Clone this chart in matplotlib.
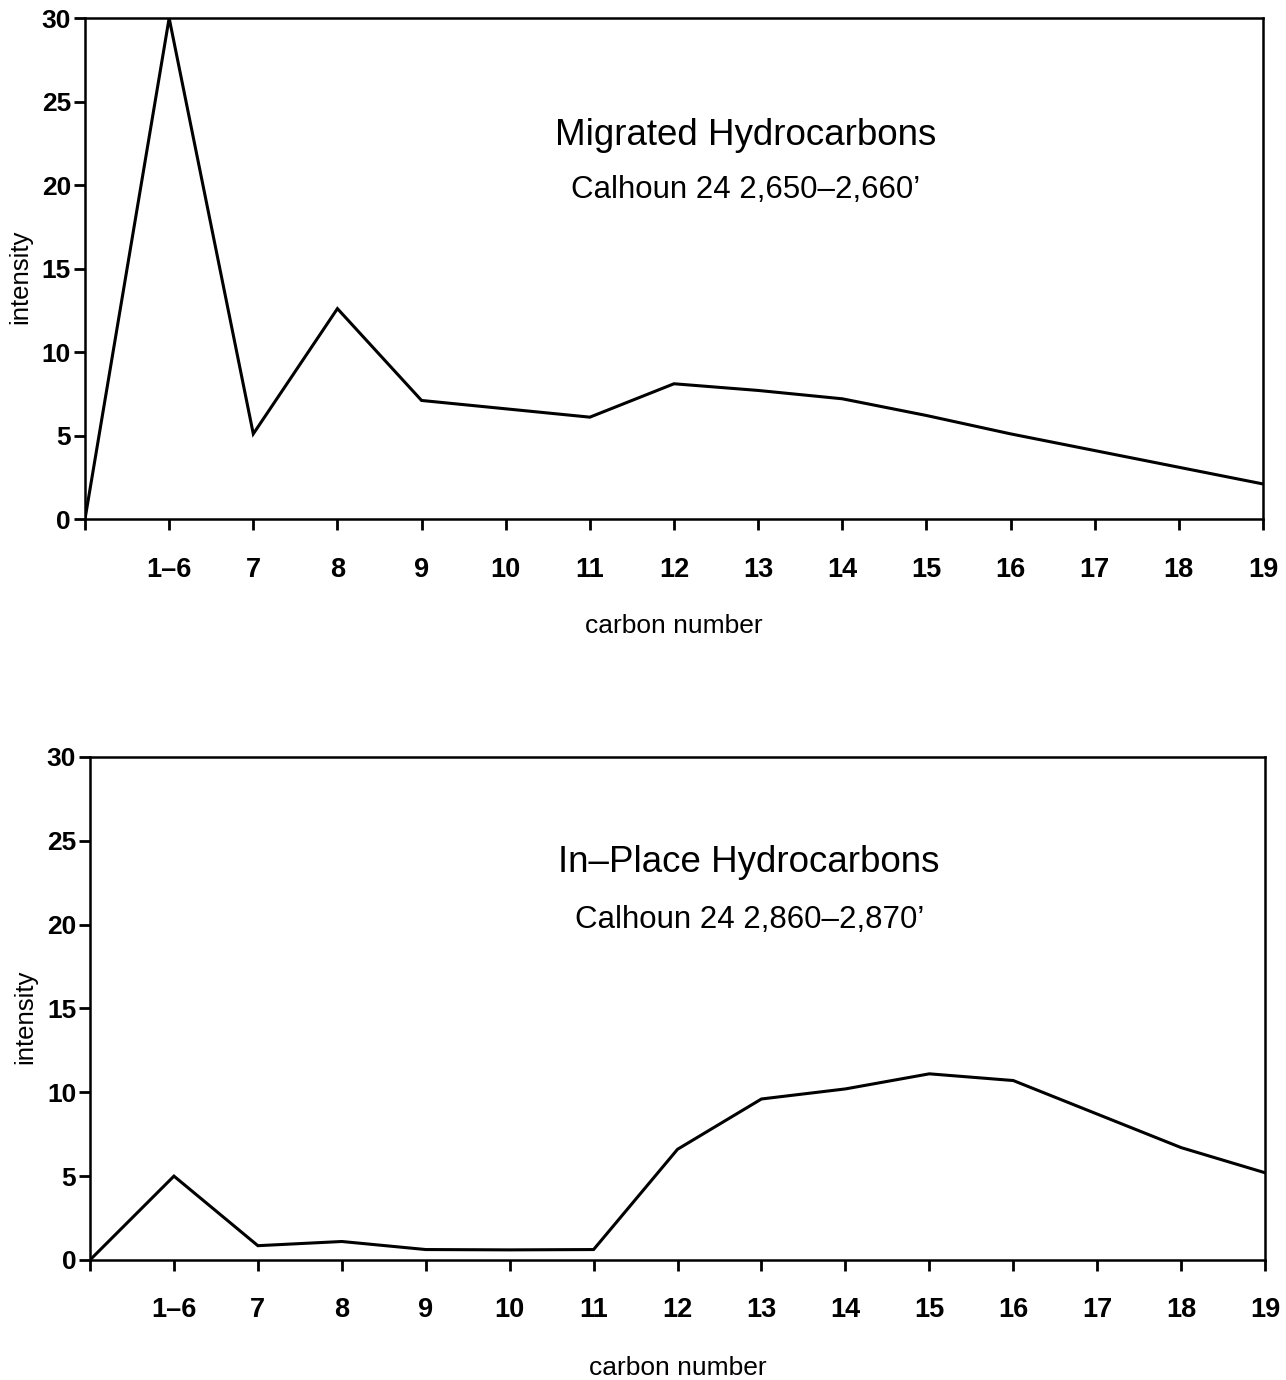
import matplotlib
matplotlib.use("Agg")
import matplotlib.pyplot as plt

plt.rcParams['font.family'] = ['Liberation Sans', 'DejaVu Sans']

# carbon number categories (position 0 is the unlabeled origin)
carbon_labels = ["", "1–6", "7", "8", "9", "10", "11", "12", "13", "14",
                 "15", "16", "17", "18", "19"]
positions = list(range(len(carbon_labels)))

# intensity values
migrated = [0, 30, 5.1, 12.6, 7.1, 6.6, 6.1, 8.1, 7.7, 7.2, 6.2, 5.1, 4.1, 3.1, 2.1]
in_place = [0, 5.0, 0.85, 1.1, 0.62, 0.6, 0.62, 6.6, 9.6, 10.2, 11.1, 10.7, 8.7, 6.7, 5.2]

y_ticks = [0, 5, 10, 15, 20, 25, 30]

panels = [
    (migrated, "Migrated Hydrocarbons", "Calhoun 24 2,650–2,660’",
     [0.0661, 0.6239, 0.916, 0.3630], 0.766, 0.657),
    (in_place, "In–Place Hydrocarbons", "Calhoun 24 2,860–2,870’",
     [0.0700, 0.0870, 0.9137, 0.3645], 0.791, 0.676),
]

fig = plt.figure(figsize=(12.86, 13.8), dpi=100)

for values, title, subtitle, rect, ty, sy in panels:
    ax = fig.add_axes(rect)
    ax.plot(positions, values, color='black', lw=2.2, solid_joinstyle='miter')
    ax.set_xlim(0, 14)
    ax.set_ylim(0, 30)
    ax.set_xticks(positions)
    ax.set_xticklabels(carbon_labels, fontsize=19.5, fontweight='bold')
    ax.set_yticks(y_ticks)
    ax.set_yticklabels([str(v) for v in y_ticks], fontsize=19, fontweight='bold')
    ax.tick_params(axis='x', direction='out', length=8, width=2, pad=19)
    ax.tick_params(axis='y', direction='out', length=8, width=2, pad=2)
    for s in ax.spines.values():
        s.set_linewidth(1.8)
    ax.text(0.561, ty, title, transform=ax.transAxes, ha='center', va='center',
            fontsize=26.5)
    ax.text(0.561, sy, subtitle, transform=ax.transAxes, ha='center', va='center',
            fontsize=22.5)
    ax.text(0.5, -0.214, "carbon number", transform=ax.transAxes, ha='center',
            va='center', fontsize=19)
    ax.text(-0.055, 0.483, "intensity", transform=ax.transAxes, ha='center',
            va='center', rotation=90, fontsize=18.5)

fig.savefig("out.png", dpi=100)
